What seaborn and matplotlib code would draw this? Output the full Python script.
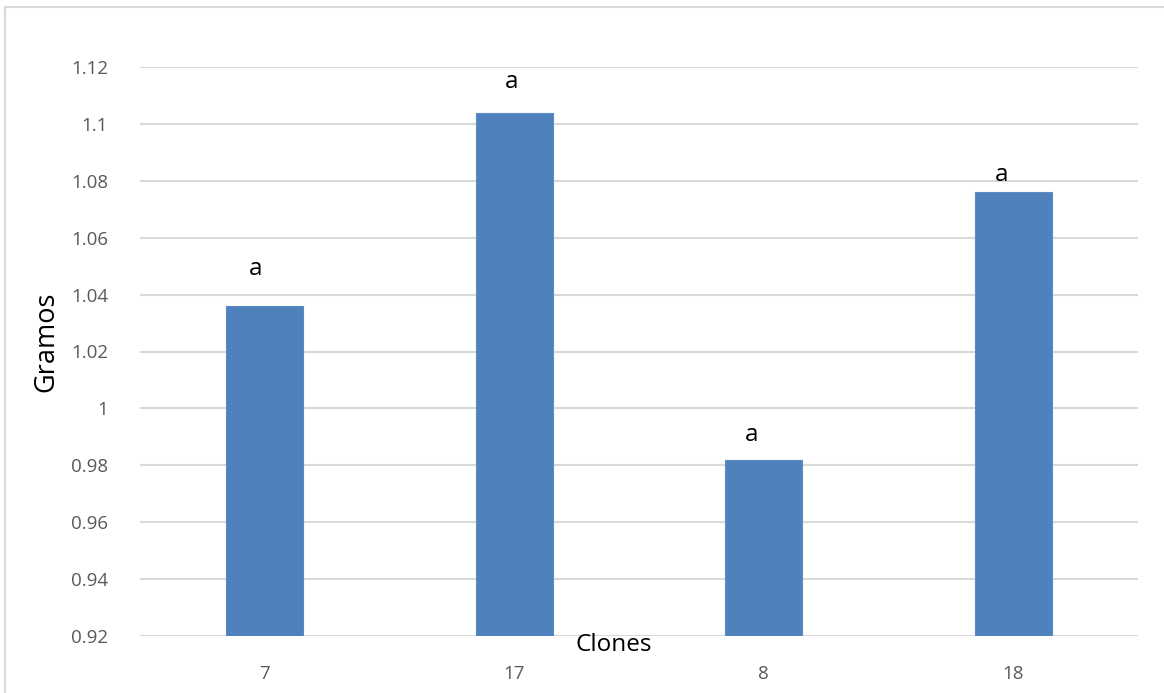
import matplotlib
matplotlib.use("Agg")
import matplotlib.pyplot as plt
from matplotlib.lines import Line2D
import seaborn as sns
import pandas as pd

# Mean weight per clone (grams) and significance letters
clones = ["7", "17", "8", "18"]
gramos = [1.036, 1.104, 0.982, 1.076]
letras = ["a", "a", "a", "a"]
y_ticks = [0.92, 0.94, 0.96, 0.98, 1.00, 1.02, 1.04, 1.06, 1.08, 1.10, 1.12]
y_tick_labels = ["0.92", "0.94", "0.96", "0.98", "1", "1.02", "1.04", "1.06",
                 "1.08", "1.1", "1.12"]

# letter placement relative to each bar top (pixels)
letter_offsets = [(-9, 37), (-3, 31), (-12, 25), (-12, 17)]

sns.set_theme(style="white")
plt.rcParams["font.family"] = ["Open Sans", "DejaVu Sans"]

W, H = 1164, 693
fig = plt.figure(figsize=(W / 100, H / 100), dpi=100)
ax = fig.add_axes([140 / W, (H - 636) / H, (1138 - 140) / W, (636 - 67) / H])

df = pd.DataFrame({"Clones": clones, "Gramos": gramos})
sns.barplot(data=df, x="Clones", y="Gramos", order=clones, color="#4f81bd",
            saturation=1, width=0.31, edgecolor="#5b8cc6", linewidth=0.8,
            ax=ax, zorder=3)

ax.set_ylim(0.92, 1.12)
ax.set_yticks(y_ticks)
ax.set_yticklabels(y_tick_labels)
ax.yaxis.grid(True, color="#d9d9d9", linewidth=1.5, zorder=0)
ax.set_axisbelow(True)
for s in ax.spines.values():
    s.set_visible(False)
ax.tick_params(axis="both", length=0, labelsize=13.5, labelcolor="#595959")
ax.tick_params(axis="y", pad=23)
ax.tick_params(axis="x", pad=21)
ax.set_xlabel("")
ax.set_ylabel("")

# significance letters above bars
for i, (val, let) in enumerate(zip(gramos, letras)):
    dx, dy = letter_offsets[i]
    ax.annotate(let, xy=(i, val), xytext=(dx, dy), textcoords="offset pixels",
                ha="center", va="center", fontsize=17.5, color="black")

fig.text(614 / W, 1 - 645 / H, "Clones", ha="center", va="center",
         fontsize=17.5, color="black")
fig.text(46 / W, 1 - 342 / H, "Gramos", ha="center", va="center",
         fontsize=19.5, color="black", rotation=90)

# chart frame
fig.add_artist(Line2D([5 / W, 1], [1 - 7 / H, 1 - 7 / H], color="#d9d9d9",
                      linewidth=1.5, transform=fig.transFigure))
fig.add_artist(Line2D([5 / W, 5 / W], [0, 1 - 7 / H], color="#d9d9d9",
                      linewidth=1.5, transform=fig.transFigure))

fig.savefig("out.png", dpi=100, facecolor="white")
